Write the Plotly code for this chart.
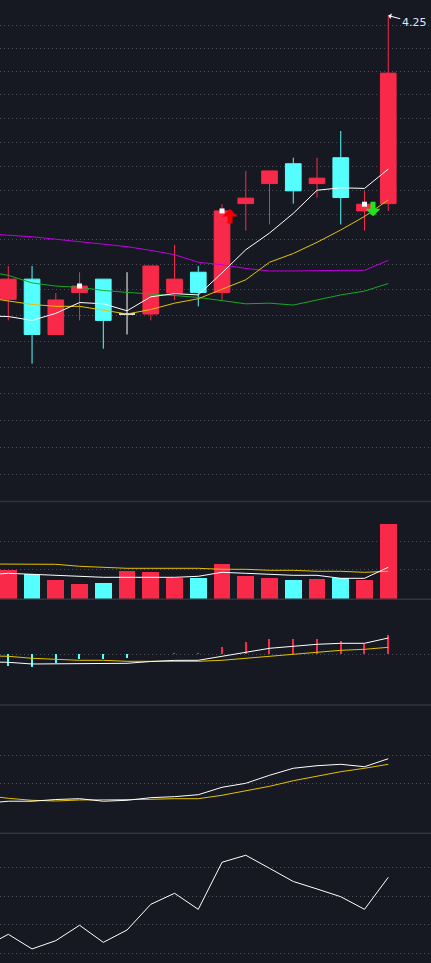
import math
import plotly.graph_objects as go
from plotly.subplots import make_subplots

# 17 trading days, oldest first
opens = [3.774, 3.806, 3.719, 3.785, 3.806, 3.751, 3.751, 3.784, 3.817, 3.785,
         3.928, 3.961, 3.994, 3.961, 4.004, 3.916, 3.928]
highs = [3.827, 3.827, 3.784, 3.817, 3.806, 3.817, 3.827, 3.861, 3.827, 3.927,
         3.982, 3.982, 4.004, 4.004, 4.049, 3.949, 4.249]
lows = [3.741, 3.674, 3.719, 3.741, 3.697, 3.719, 3.741, 3.773, 3.763, 3.773,
        3.884, 3.894, 3.928, 3.938, 3.894, 3.884, 3.916]
closes = [3.806, 3.719, 3.773, 3.795, 3.741, 3.751, 3.827, 3.806, 3.785, 3.916,
          3.937, 3.982, 3.949, 3.970, 3.938, 3.927, 4.148]
volume = [303, 263, 203, 163, 173, 293, 283, 220, 223, 363,
          243, 223, 203, 213, 223, 203, 763]

# the lines below also carry the day before the first candle
ma5 = [3.748, 3.747, 3.741, 3.752, 3.769, 3.767, 3.756, 3.778, 3.783, 3.781,
       3.816, 3.853, 3.880, 3.912, 3.950, 3.954, 3.953, 3.985]
ma10 = [3.777, 3.772, 3.766, 3.763, 3.763, 3.757, 3.751, 3.758, 3.768, 3.775,
        3.790, 3.805, 3.833, 3.847, 3.865, 3.885, 3.907, 3.934]
ma20 = [3.819, 3.812, 3.800, 3.795, 3.793, 3.788, 3.785, 3.783, 3.780, 3.777,
        3.772, 3.767, 3.768, 3.765, 3.773, 3.781, 3.787, 3.799]
ma60 = [3.879, 3.877, 3.874, 3.870, 3.866, 3.862, 3.858, 3.852, 3.845, 3.833,
        3.829, 3.823, 3.819, 3.819, 3.820, 3.820, 3.820, 3.836]
vol_ma5 = [243, 260, 250, 240, 230, 220, 220, 220, 220, 230,
           270, 260, 250, 240, 240, 210, 210, 320]
vol_ma10 = [353, 350, 350, 350, 330, 320, 310, 310, 310, 310,
            300, 300, 290, 290, 280, 280, 270, 280]
dif = [-0.0075, -0.0080, -0.0097, -0.0097, -0.0090, -0.0090, -0.0090, -0.0072, -0.0061, -0.0060,
       -0.0018, 0.0020, 0.0060, 0.0080, 0.0100, 0.0110, 0.0110, 0.0163]
dea = [-0.0015, -0.0020, -0.0040, -0.0050, -0.0060, -0.0060, -0.0070, -0.0070, -0.0070, -0.0070,
       -0.0060, -0.0040, -0.0020, 0.0000, 0.0020, 0.0040, 0.0050, 0.0070]
macd_hist = [-0.0117, -0.0127, -0.0090, -0.0053, -0.0053, -0.0040, 0.0, 0.0005, 0.0005, 0.0067,
             0.0117, 0.0150, 0.0150, 0.0150, 0.0130, 0.0100, 0.0187]
ind_fast = [0.064, 0.068, 0.068, 0.071, 0.0725, 0.068, 0.0696, 0.0743, 0.0761, 0.0796,
            0.0929, 0.100, 0.1143, 0.1268, 0.1314, 0.1339, 0.1296, 0.1439]
ind_slow = [0.0782, 0.0732, 0.0696, 0.0684, 0.0702, 0.0702, 0.0702, 0.0714, 0.0725, 0.0725,
            0.0786, 0.0863, 0.0946, 0.1046, 0.113, 0.1207, 0.1268, 0.1339]
osc = [24.5, 33.3, 23.1, 28.9, 39.6, 27.7, 36.3, 54.2, 61.9, 50.7,
       83.5, 88.4, 79.3, 70.1, 64.9, 59.5, 50.7, 73.0]

buy_days = [9]
sell_days = [15]
mark_days = [3, 9, 15]

BG = "#161921"
RED = "#f92a49"
CYAN = "#55ffff"
YELLOW = "#e6c200"
GREEN = "#1aa82a"
MAGENTA = "#c000e0"
GRID = "#4a4f5a"
SEP = "#30343d"

days = list(range(len(closes)))
line_days = list(range(-1, len(closes)))

fig = make_subplots(rows=5, cols=1, shared_xaxes=True, vertical_spacing=0,
                    row_heights=[501.5, 97.8, 105.7, 128.3, 129.7])

# candles: rising, falling and flat days get their own colour
groups = [
    ([d for d in days if closes[d] > opens[d]], RED),
    ([d for d in days if closes[d] < opens[d]], CYAN),
    ([d for d in days if closes[d] == opens[d]], "#ffffff"),
]
for sel, col in groups:
    style = dict(line=dict(color=col, width=1), fillcolor=col)
    fig.add_trace(go.Candlestick(
        x=sel,
        open=[opens[d] for d in sel],
        high=[highs[d] for d in sel],
        low=[lows[d] for d in sel],
        close=[closes[d] for d in sel],
        increasing=style, decreasing=style, whiskerwidth=0,
    ), row=1, col=1)

for vals, col in [(ma60, MAGENTA), (ma20, GREEN), (ma10, YELLOW), (ma5, "#ffffff")]:
    fig.add_trace(go.Scatter(x=line_days, y=vals, mode="lines",
                             line=dict(color=col, width=1)), row=1, col=1)

fig.add_trace(go.Scatter(x=mark_days, y=[closes[d] for d in mark_days], mode="markers",
                         marker=dict(symbol="square", size=5, color="#ffffff")),
              row=1, col=1)

# volume
vol_colors = [RED if closes[d] >= opens[d] else CYAN for d in days]
fig.add_trace(go.Bar(x=days, y=volume, width=0.7, marker=dict(color=vol_colors, line_width=0)),
              row=2, col=1)
fig.add_trace(go.Scatter(x=line_days, y=vol_ma10, mode="lines",
                         line=dict(color=YELLOW, width=1)), row=2, col=1)
fig.add_trace(go.Scatter(x=line_days, y=vol_ma5, mode="lines",
                         line=dict(color="#ffffff", width=1)), row=2, col=1)

# macd
hist_colors = [RED if h >= 0 else CYAN for h in macd_hist]
fig.add_trace(go.Bar(x=days, y=macd_hist, width=0.05,
                     marker=dict(color=hist_colors, line_width=0)), row=3, col=1)
fig.add_trace(go.Scatter(x=line_days, y=dea, mode="lines",
                         line=dict(color=YELLOW, width=1)), row=3, col=1)
fig.add_trace(go.Scatter(x=line_days, y=dif, mode="lines",
                         line=dict(color="#ffffff", width=1)), row=3, col=1)

# fourth and fifth panels
fig.add_trace(go.Scatter(x=line_days, y=ind_slow, mode="lines",
                         line=dict(color=YELLOW, width=1)), row=4, col=1)
fig.add_trace(go.Scatter(x=line_days, y=ind_fast, mode="lines",
                         line=dict(color="#ffffff", width=1)), row=4, col=1)
fig.add_trace(go.Scatter(x=line_days, y=osc, mode="lines",
                         line=dict(color="#ffffff", width=1)), row=5, col=1)

grid = dict(showticklabels=False, ticks="", zeroline=False, showline=False,
            gridcolor=GRID, gridwidth=1, griddash="1px,3px")
price_grid = [4.231 - 0.0402 * i for i in range(19)]
fig.update_yaxes(type="log", range=[math.log10(3.4684), math.log10(4.2767)],
                 tickvals=price_grid, row=1, col=1, **grid)
fig.update_yaxes(range=[0, 978], tickvals=[300, 580], row=2, col=1, **grid)
fig.update_yaxes(range=[-0.0507, 0.055], tickvals=[0], row=3, col=1, **grid)
fig.update_yaxes(range=[0.0107, 0.2398], tickvals=[0.10, 0.15], row=4, col=1, **grid)
fig.update_yaxes(range=[13.31, 103.69], tickvals=[20, 40, 60, 80], row=5, col=1, **grid)
fig.update_xaxes(range=[-0.35, 17.8], visible=False, rangeslider_visible=False)

# panel separators
for r in range(2, 6):
    top = fig.layout[f"yaxis{r}"].domain[1]
    fig.add_shape(type="line", xref="paper", yref="paper", x0=0, x1=1, y0=top, y1=top,
                  line=dict(color=SEP, width=1.5))

# highest price label
hi_day = max(days, key=lambda d: highs[d])
fig.add_annotation(x=hi_day, y=math.log10(highs[hi_day]), xref="x", yref="y",
                   text=f"{highs[hi_day]:.2f}", showarrow=True, ax=26, ay=7,
                   arrowhead=1, arrowwidth=1, arrowsize=1, arrowcolor="#ffffff", standoff=0,
                   font=dict(color="#dde6ff", size=11, family="DejaVu Sans"))

# buy / sell signals
for d in buy_days:
    fig.add_annotation(x=d, y=math.log10(closes[d]), xref="x", yref="y", text="",
                       showarrow=True, ax=0, ay=16, arrowhead=1, arrowsize=0.5,
                       arrowwidth=5, arrowcolor="#f00000", standoff=0, xshift=8, yshift=2)
for d in sell_days:
    fig.add_annotation(x=d, y=math.log10(closes[d]), xref="x", yref="y", text="",
                       showarrow=True, ax=0, ay=-16, arrowhead=1, arrowsize=0.5,
                       arrowwidth=5, arrowcolor="#1ee61e", standoff=0, xshift=8.5, yshift=-12)

fig.update_layout(width=431, height=963, margin=dict(l=0, r=0, t=0, b=0),
                  paper_bgcolor=BG, plot_bgcolor=BG, showlegend=False,
                  font=dict(family="DejaVu Sans"), bargap=0,
                  boxgap=0.34, boxgroupgap=0)

# the page body has a default margin; drop it so the chart fills the window
fig.write_html("out.html", config={"displayModeBar": False},
               post_script="document.body.style.margin='0';document.body.style.overflow='hidden';")
